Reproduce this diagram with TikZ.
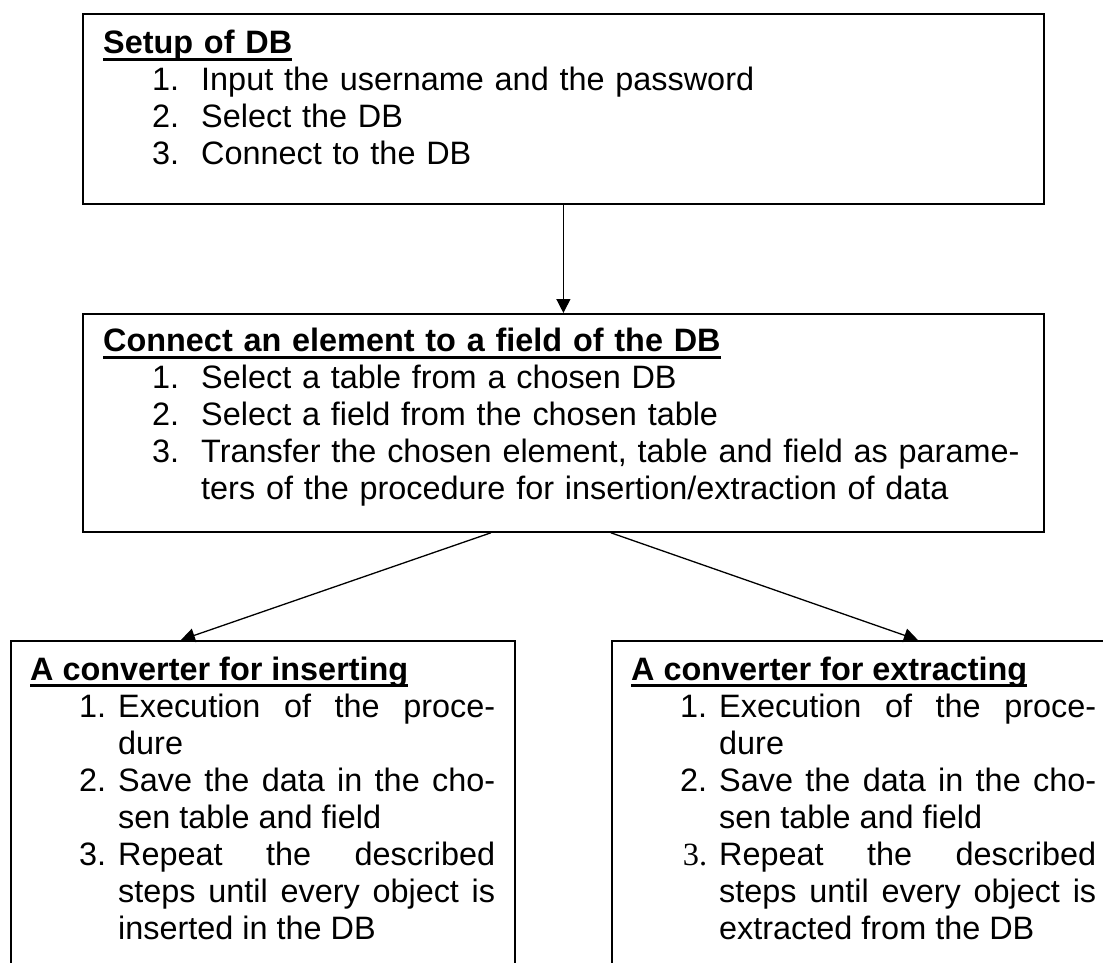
\documentclass[tikz,border=0pt]{standalone}
\usepackage{fontspec}
\setmainfont{Liberation Sans}
\newfontfamily\numserif{Liberation Serif}
\usetikzlibrary{arrows.meta,positioning}

% numbered steps inside a box: #1 left margin, #2 label gap
\newcounter{stepno}
\newenvironment{steplist}[2]{%
  \begin{list}{\arabic{stepno}.}{\usecounter{stepno}%
    \setlength{\leftmargin}{#1}\setlength{\labelsep}{#2}%
    \setlength{\labelwidth}{27pt}%
    \setlength{\topsep}{0pt}\setlength{\partopsep}{0pt}%
    \setlength{\itemsep}{0pt}\setlength{\parsep}{0pt}}}%
  {\end{list}}
% bold heading with a Word-like underline
\newcommand{\boxhead}[1]{\setbox0=\hbox{\bfseries #1}\rlap{\rule[-7pt]{\wd0}{2.8pt}}\box0}

\tikzset{
  panel/.style={draw=black, line width=1.8pt, inner sep=0pt, anchor=north west},
  paneltext/.style={anchor=north west, inner sep=0pt, font=\fontsize{32.4}{37}\selectfont},
  arrow/.style={-{Triangle[length=14pt,width=14pt]}, line width=1.3pt}
}

\begin{document}
\begin{tikzpicture}[x=1pt,y=-1pt]
\useasboundingbox (0,0) rectangle (1103,963);
\clip (0,0) rectangle (1103,963);
% ---- boxes ----
\node[panel, minimum width=961pt, minimum height=190pt] (setup) at (82,13) {};
\node[panel, minimum width=961pt, minimum height=218pt] (conn) at (82,313) {};
\node[panel, minimum width=504pt, minimum height=345pt] (ins) at (10,640) {};
\node[panel, minimum width=504pt, minimum height=345pt] (ext) at (611,640) {};
% ---- texts ----
\node[paneltext, text width=920pt, align=left] (setuptxt) at ([xshift=21pt,yshift=-17pt]setup.north west) {\boxhead{Setup of DB}\par
\begin{steplist}{98pt}{22pt}
\item Input the username and the password
\item Select the DB
\item Connect to the DB
\end{steplist}};
\node[paneltext, text width=920pt, align=left] (conntxt) at ([xshift=21pt,yshift=-15pt]conn.north west) {\boxhead{Connect an element to a field of the DB}\par
\begin{steplist}{98pt}{22pt}
\item Select a table from a chosen DB
\item Select a field from the chosen table
\item Transfer the chosen element, table and field as parame-\\ters of the procedure for insertion/extraction of data
\end{steplist}};
\node[paneltext, text width=465pt, align=justify] (instxt) at ([xshift=20pt,yshift=-16.5pt]ins.north west) {\tolerance=10000\hyphenpenalty=10000
\boxhead{A converter for inserting}\par
\begin{steplist}{88pt}{12pt}
\item Execution of the proce-\linebreak dure
\item Save the data in the cho-\linebreak sen table and field
\item Repeat the described\linebreak steps until every object is\linebreak inserted in the DB
\end{steplist}};
\node[paneltext, text width=465pt, align=justify] (exttxt) at ([xshift=20pt,yshift=-16.5pt]ext.north west) {\tolerance=10000\hyphenpenalty=10000
\boxhead{A converter for extracting}\par
\begin{steplist}{88pt}{12pt}
\item Execution of the proce-\linebreak dure
\item Save the data in the cho-\linebreak sen table and field
\item[\numserif 3.] Repeat the described\linebreak steps until every object is\linebreak extracted from the DB
\end{steplist}};
% ---- connectors ----
\draw[arrow] (setup.south) -- (conn.north);
\draw[arrow] ([xshift=-72.5pt]conn.south) -- ([xshift=-82pt]ins.north);
\draw[arrow] ([xshift=47.5pt]conn.south) -- ([xshift=54pt]ext.north);
\end{tikzpicture}
\end{document}
